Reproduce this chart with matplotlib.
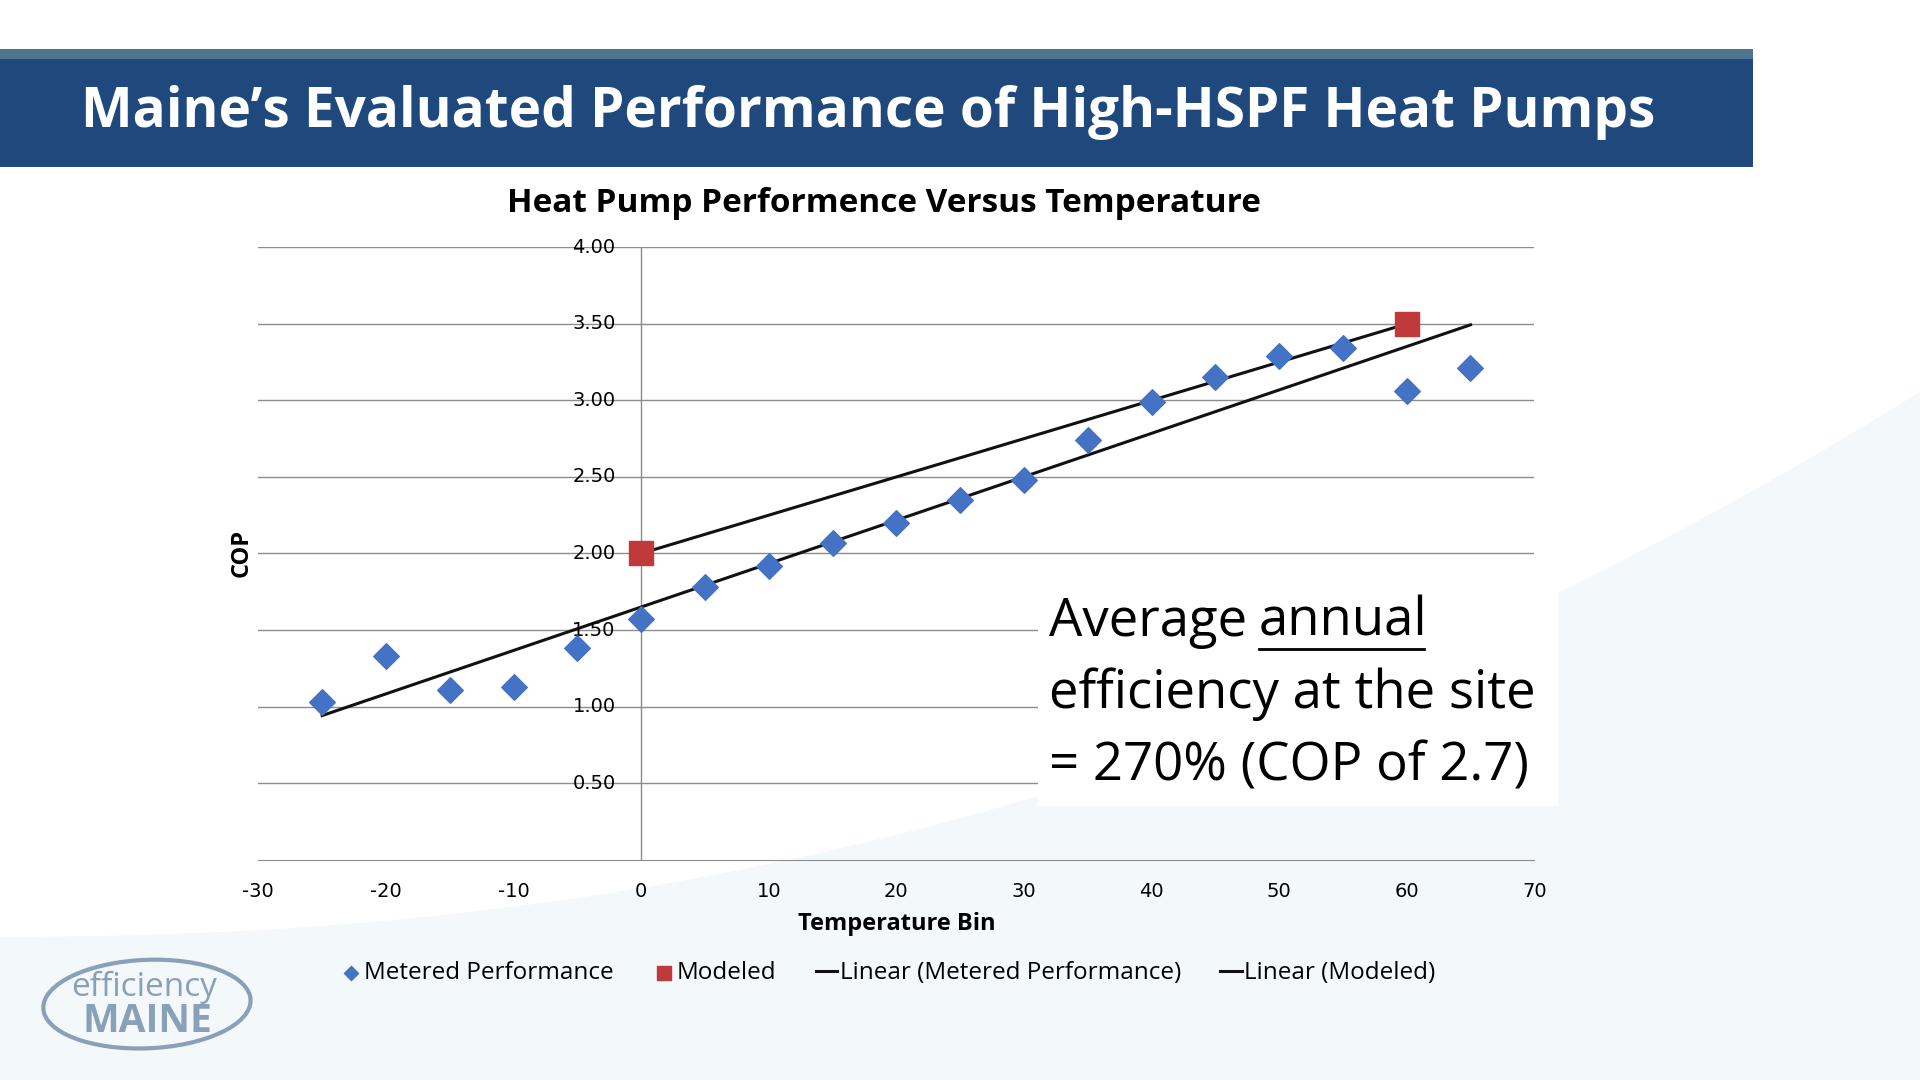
import matplotlib
matplotlib.use("Agg")
import matplotlib.pyplot as plt
import numpy as np
from matplotlib.patches import Rectangle, Polygon, Ellipse

temps = [-25,-20,-15,-10,-5,0,5,10,15,20,25,30,35,40,45,50,55,60,65]
cop_metered = [1.03,1.33,1.11,1.13,1.38,1.57,1.78,1.92,2.07,2.20,2.35,2.48,2.74,2.99,3.15,3.29,3.34,3.06,3.21]
temps_model = [0,60]
cop_model = [2.0,3.5]
yticks = [0.5,1.0,1.5,2.0,2.5,3.0,3.5,4.0]
xticks = [-30,-20,-10,0,10,20,30,40,50,60,70]

W,H = 1568,882
fig = plt.figure(figsize=(19.2,10.8), dpi=100)
fx = lambda x: x/W
fy = lambda y: 1-y/H
t = np.linspace(0,1,60)
cx = 0 + 1568*t
cy = 765 - 445*t**2.2
pts = [(fx(a),fy(b)) for a,b in zip(cx,cy)] + [(1,0),(0,0)]
fig.patches.append(Polygon(pts, closed=True, transform=fig.transFigure, facecolor="#f3f8fa", edgecolor="none", zorder=-5))
fig.patches.append(Rectangle((0,fy(136)),fx(1432),fy(48)-fy(136),transform=fig.transFigure,facecolor="#1f497d",edgecolor="none"))
fig.patches.append(Rectangle((0,fy(48)),fx(1432),fy(40)-fy(48),transform=fig.transFigure,facecolor="#4f7591",edgecolor="none"))
fig.text(fx(66),fy(92),"Maine’s Evaluated Performance of High-HSPF Heat Pumps",color="white",fontsize=39.5,fontweight="bold",family="Open Sans",va="center")
fig.text(fx(722),fy(166),"Heat Pump Performence Versus Temperature",fontsize=24,fontweight="bold",family="Open Sans",ha="center",va="center")

ax = fig.add_axes([fx(211),fy(702),fx(1253)-fx(211),fy(202)-fy(702)])
ax.set_facecolor("none")
ax.set_xlim(-30,70); ax.set_ylim(0,4)
for y in yticks:
    ax.axhline(y,color="#8c8c8c",lw=1,zorder=1)
    ax.text(-2.0,y,f"{y:.2f}",ha="right",va="center",fontsize=14,family="DejaVu Sans")
ax.axvline(0,color="#8c8c8c",lw=1,zorder=1)
ax.set_yticks([])
ax.set_xticks(xticks); ax.set_xticklabels([str(t) for t in xticks],fontsize=14)
ax.tick_params(axis="x",length=0,pad=16)
for s in ["top","right","left"]: ax.spines[s].set_visible(False)
ax.spines["bottom"].set_color("#8c8c8c")
ax.set_xlabel("Temperature Bin",fontsize=17,fontweight="bold",family="Open Sans",labelpad=8)
fig.text(fx(197),fy(452),"COP",rotation=90,fontsize=17,fontweight="bold",family="Open Sans",ha="center",va="center")

p = np.polyfit(temps,cop_metered,1)
xs = np.array([temps[0],temps[-1]])
ax.plot(xs,np.polyval(p,xs),color="#111111",lw=2.2,zorder=2,label="Linear (Metered Performance)")
ax.plot(temps_model,cop_model,color="#111111",lw=2.2,zorder=2,label="Linear (Modeled)")
ax.scatter(temps,cop_metered,marker="D",s=170,color="#4472c4",zorder=3,label="Metered Performance")
ax.scatter(temps_model,cop_model,marker="s",s=300,color="#c0393b",zorder=3,label="Modeled")
hs,ls = ax.get_legend_handles_labels()
order=[2,3,0,1]
fig.legend([hs[i] for i in order],[ls[i] for i in order],loc="center",bbox_to_anchor=(fx(725),fy(795)),ncol=4,frameon=False,
           prop={"family":"Open Sans","size":17.5},handlelength=0.9,handletextpad=0.1,columnspacing=1.6,markerscale=0.55)

fig.patches.append(Rectangle((fx(848),fy(658)),fx(1272)-fx(848),fy(478)-fy(658),transform=fig.transFigure,facecolor="white",edgecolor="none",zorder=3))
kw=dict(fontsize=38,family="Open Sans",va="center",zorder=4)
fig.text(fx(857),fy(508),"Average",**kw)
fig.text(fx(1028),fy(508),"annual",**kw)
fig.lines.append(plt.Line2D([fx(1028),fx(1163)],[fy(530),fy(530)],transform=fig.transFigure,color="black",lw=2,zorder=4))
fig.text(fx(857),fy(567),"efficiency at the site",**kw)
fig.text(fx(857),fy(626),"= 270% (COP of 2.7)",**kw)

fig.patches.append(Ellipse((fx(120),fy(820)),fx(170),fy(790)-fy(862),transform=fig.transFigure,facecolor="none",edgecolor="#8a9fb8",lw=3,angle=8))
fig.text(fx(118),fy(806),"efficiency",fontsize=24,color="#8a9fb8",family="Open Sans",ha="center",va="center")
fig.text(fx(120),fy(834),"MAINE",fontsize=28,color="#8a9fb8",family="Open Sans",fontweight="bold",ha="center",va="center")
fig.savefig("out.png",dpi=100)
